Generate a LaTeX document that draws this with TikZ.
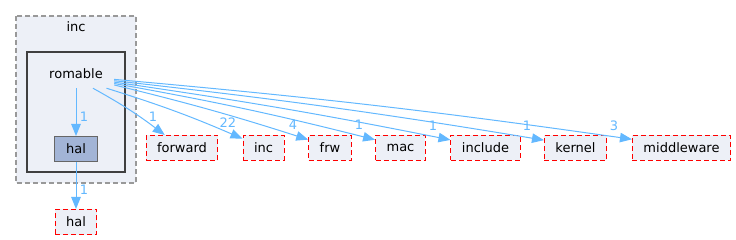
\documentclass[tikz,border=0pt]{standalone}
\usepackage{fontspec}
\setmainfont{DejaVu Sans}
\usepackage{xcolor}
\usepackage{tikz}
\usetikzlibrary{arrows.meta}
\definecolor{dirfill}{RGB}{237,240,247}
\definecolor{halfill}{RGB}{162,180,214}
\definecolor{deplink}{RGB}{99,184,255}
\newcommand{\dirfont}{\fontsize{13}{14}\selectfont}
\tikzset{
  extdir/.style={draw=red,fill=dirfill,dash pattern=on 5pt off 3pt,line width=1pt,inner xsep=11pt,inner ysep=0pt,minimum height=25pt,font=\dirfont},
  subdir/.style={draw=black!60,fill=halfill,line width=1pt,minimum width=43pt,minimum height=25pt,inner sep=0pt,font=\dirfont},
  dep/.style={draw=deplink,line width=1pt,-{Triangle[length=12pt,width=9.5pt]}},
  lbl/.style={text=deplink,font=\dirfont,inner sep=0pt}
}

\begin{document}
\begin{tikzpicture}[x=1pt,y=-1pt]
\useasboundingbox (0,0) rectangle (736,240);
\draw[draw=black!40,fill=dirfill,dash pattern=on 5pt off 3pt,line width=1.3pt] (16,16) rectangle (136,183);
\node[font=\dirfont] (inclbl) at (76,27) {inc};
\draw[draw=black!75,fill=dirfill,line width=2.5pt] (27,52) rectangle (125,172);
\node[font=\dirfont,minimum width=76pt,minimum height=28pt,inner sep=0pt] (rom) at (76,74) {romable};
\node[subdir] (hal) at (76,149) {hal};
\node[extdir] (halx) at (76,222) {hal};
\foreach \nm/\x/\txt in {fwd/182/forward,incx/263.5/inc,frw/330/frw,mac/400.5/mac,incd/485.5/include,kern/575.5/kernel,mid/681.5/middleware}
  \node[extdir] (\nm) at (\x,148) {\txt};
% links
\draw[dep] (rom.south) -- (hal.north);
\draw[dep] (hal.south) -- (halx.north);
\node[lbl] at (84,117) {1};
\node[lbl] at (84,190) {1};
\foreach \nm/\a/\b/\bend/\n/\lx/\ly in {fwd/-40/143/4/1/153/117,incx/-25/156/3/22/228/123,frw/-16/159/2/4/293/125,mac/-14/162/2/1/359/125,incd/-12/167/1.5/1/433/126,kern/-10/166/1.5/1/527/126,mid/-8/170/1.5/3/614/126}{
  \draw[dep] (rom.\a) to[bend left=\bend] (\nm.\b);
  \node[lbl] at (\lx,\ly) {\n};
}
\end{tikzpicture}
\end{document}
